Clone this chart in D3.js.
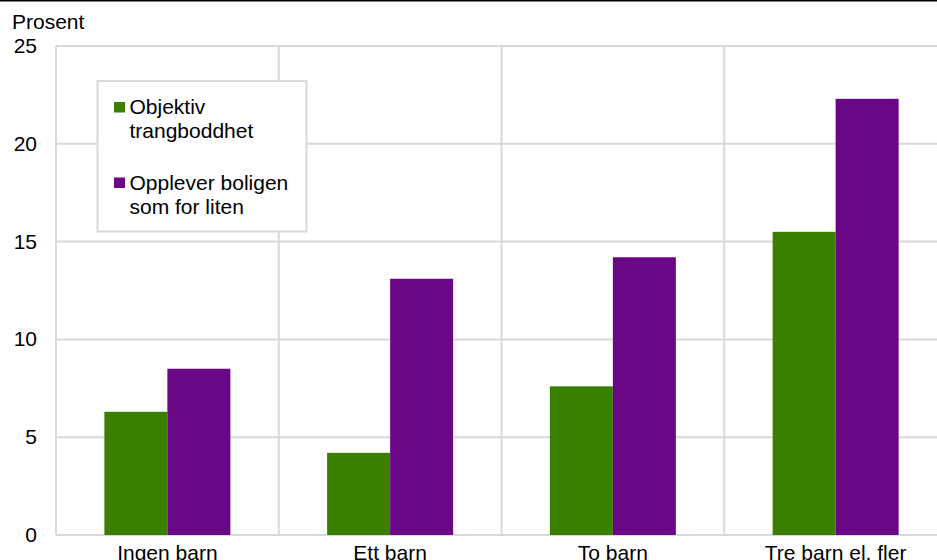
<!DOCTYPE html>
<html><head><meta charset="utf-8">
<script src="https://cdn.jsdelivr.net/npm/d3@7"></script>
<style>html,body{margin:0;padding:0;background:#fff;overflow:hidden}text{font-family:"Liberation Sans",Arial,sans-serif}</style>
</head><body><svg id="c" width="937" height="560"></svg>
<script>
const categories = ["Ingen barn", "Ett barn", "To barn", "Tre barn el. fler"];
const seriesNames = ["Objektiv trangboddhet", "Opplever boligen som for liten"];
const objektiv = [6.3, 4.2, 7.6, 15.5];
const opplever = [8.5, 13.1, 14.2, 22.3];
const yTicks = [0, 5, 10, 15, 20, 25];
const colors = ["#3b7f00", "#6a0787"];

(function(){
const svg = d3.select("#c");
const mL = 56, mR = 947, mT = 46, mB = 535;
const FS = 21;
const x = d3.scaleBand().domain(categories).range([mL, mR]).paddingInner(0).paddingOuter(0);
const x1 = d3.scaleBand().domain([0,1]).range([0, x.bandwidth()]).paddingOuter(0.768).paddingInner(0);
const y = d3.scaleLinear().domain([0, 25]).range([mB, mT]);

svg.append("line").attr("x1",0).attr("x2",937).attr("y1",0.75).attr("y2",0.75).attr("stroke","#000").attr("stroke-width",1.5);

const g = svg.append("g");
g.selectAll(".hg").data(yTicks).join("line")
  .attr("x1", mL).attr("x2", mR).attr("y1", d=>y(d)).attr("y2", d=>y(d))
  .attr("stroke","#d9d9d9").attr("stroke-width",2);
g.selectAll(".vg").data(categories).join("line")
  .attr("x1", d=>x(d)).attr("x2", d=>x(d)).attr("y1", mT).attr("y2", mB)
  .attr("stroke","#d9d9d9").attr("stroke-width",2);

const series = [objektiv, opplever];
series.forEach((vals, si) => {
  svg.append("g").selectAll("rect").data(vals).join("rect")
    .attr("x", (d,i)=>x(categories[i]) + x1(si))
    .attr("width", x1.bandwidth())
    .attr("y", d=>y(d))
    .attr("height", d=>y(0)-y(d))
    .attr("fill", colors[si]);
});

svg.append("g").selectAll("text").data(yTicks).join("text")
  .attr("x", 37).attr("y", d=>y(d)+7).attr("text-anchor","end")
  .attr("font-size", FS).attr("fill","#000").text(d=>d);

svg.append("text").attr("x", 12).attr("y", 29).attr("font-size", FS).text("Prosent");

svg.append("g").selectAll("text").data(categories).join("text")
  .attr("x", d=>x(d)+x.bandwidth()/2).attr("y", 560).attr("text-anchor","middle")
  .attr("font-size", FS).text(d=>d);

const lg = svg.append("g");
lg.append("rect").attr("x",97.5).attr("y",81).attr("width",209).attr("height",150.5)
  .attr("fill","#fff").attr("stroke","#d9d9d9").attr("stroke-width",2);
const legendLines = [["Objektiv","trangboddhet"],["Opplever boligen","som for liten"]];
legendLines.forEach((lines, i) => {
  const yb = 114 + i*75.5;
  lg.append("rect").attr("x",114).attr("y",yb-12).attr("width",11).attr("height",10.5).attr("fill",colors[i]);
  lines.forEach((t,j)=>{
    lg.append("text").attr("x",129.5).attr("y",yb + j*24).attr("font-size",FS).text(t);
  });
});
})();
</script></body></html>
